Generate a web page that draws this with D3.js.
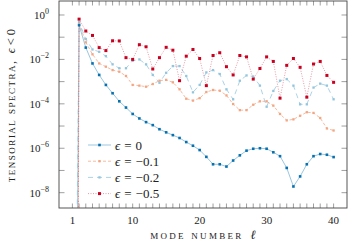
<!DOCTYPE html>
<html>
<head>
<meta charset="utf-8">
<script src="https://cdn.jsdelivr.net/npm/d3@7"></script>
<style>
  html, body { margin: 0; padding: 0; background: #fff; }
  svg { display: block; }
  text { font-family: "Liberation Serif", "DejaVu Serif", serif; fill: #222; }
</style>
</head>
<body>
<div id="chart"></div>
<script>
// mode numbers l = 1..40
const modes = d3.range(1, 41);

// tensorial spectra, one array per epsilon
const spec_eps0 = [1e-40, 3.5e-1, 3.4e-2, 6.6e-3, 2.0e-3, 7.1e-4, 3.0e-4, 1.3e-4, 6.8e-5, 3.5e-5,
  2.2e-5, 1.5e-5, 1.1e-5, 7.2e-6, 5.2e-6, 3.9e-6, 2.9e-6, 1.9e-6, 1.3e-6, 8.3e-7,
  4.1e-7, 1.9e-7, 1.9e-7, 1.5e-7, 2.8e-7, 4.8e-7, 7.8e-7, 9.5e-7, 1.0e-6, 9.5e-7,
  6.6e-7, 4.4e-7, 1.3e-7, 1.9e-8, 5.4e-8, 1.9e-7, 4.4e-7, 5.5e-7, 5.1e-7, 4.0e-7];
const spec_eps01 = [1e-60, 4.4e-1, 5.9e-2, 1.7e-2, 6.6e-3, 4.7e-3, 3.3e-3, 2.8e-3, 1.8e-3, 7.1e-4,
  6.6e-4, 5.9e-4, 7.8e-4, 1.1e-3, 1.2e-3, 9.3e-4, 4.5e-4, 1.7e-4, 1.4e-4, 1.8e-4,
  3.4e-4, 4.2e-4, 3.9e-4, 2.4e-4, 9.8e-5, 5.2e-5, 5.2e-5, 9.1e-5, 1.3e-4, 1.3e-4,
  8.3e-5, 3.5e-5, 1.8e-5, 2.0e-5, 2.9e-5, 4.2e-5, 3.9e-5, 2.3e-5, 7.8e-6, 6.3e-6];
const spec_eps02 = [1e-30, 4.8e-1, 8.3e-2, 2.8e-2, 2.2e-2, 1.4e-2, 6.0e-3, 4.0e-3, 4.0e-3, 8.7e-3,
  1.0e-2, 6.0e-3, 2.0e-3, 8.9e-4, 2.5e-3, 5.0e-3, 5.0e-3, 1.8e-3, 3.3e-4, 7.1e-4,
  2.6e-3, 3.3e-3, 2.2e-3, 4.5e-4, 1.6e-4, 1.1e-3, 1.9e-3, 1.7e-3, 6.6e-4, 7.4e-5,
  3.8e-4, 1.1e-3, 1.3e-3, 6.6e-4, 9.5e-5, 9.5e-5, 5.4e-4, 8.1e-4, 6.6e-4, 1.6e-4];
const spec_eps05 = [1e-80, 6.5e-1, 1.9e-1, 1.2e-1, 3.4e-2, 2.5e-2, 6.9e-2, 6.8e-2, 1.2e-2, 1.0e-2,
  4.6e-2, 3.7e-2, 3.7e-3, 1.2e-2, 3.5e-2, 2.6e-2, 1.1e-3, 1.4e-2, 2.8e-2, 1.1e-2,
  6.6e-4, 1.5e-2, 2.0e-2, 4.7e-3, 2.0e-3, 1.5e-2, 1.3e-2, 1.3e-3, 3.9e-3, 1.3e-2,
  8.1e-3, 1.8e-4, 5.4e-3, 1.1e-2, 4.4e-3, 2.0e-4, 6.2e-3, 8.1e-3, 1.9e-3, 9.3e-4];

const legendValues = ["0", "\u22120.1", "\u22120.2", "\u22120.5"];
const xTickLabels = [1, 10, 20, 30, 40];
const yTickExps = [0, -1, -2, -3, -4, -5, -6, -7, -8];

const series = [
  {values: spec_eps0,  color: "#0571b0", dash: null,    lineOpacity: 0.45, size: 2.6},
  {values: spec_eps01, color: "#f4a582", dash: "3,2",   lineOpacity: 0.85, size: 2.3},
  {values: spec_eps02, color: "#92c5de", dash: "5,4",   lineOpacity: 0.85, size: 2.3},
  {values: spec_eps05, color: "#ca0020", dash: "1,1.5", lineOpacity: 0.45, size: 3.0}
];

const W = 348, H = 246;
const margin = {top: 1, right: 1, bottom: 38, left: 59};
const width = W - margin.left - margin.right;
const height = H - margin.top - margin.bottom;

const x = d3.scaleLinear().domain([-1, 42]).range([0, width]);
const y = d3.scaleLog().domain([Math.pow(10, -8.69), Math.pow(10, 0.63)]).range([height, 0]);

const svg = d3.select("#chart").append("svg")
  .attr("width", W).attr("height", H);

const g = svg.append("g").attr("transform", `translate(${margin.left},${margin.top})`);

g.append("clipPath").attr("id", "clip")
  .append("rect").attr("width", width).attr("height", height);

// inward ticks, all four sides
const tickColor = "#777";
const ticks = g.append("g");
modes.forEach(function(l) {
  ticks.append("line").attr("x1", x(l)).attr("x2", x(l)).attr("y1", height).attr("y2", height - 4.5)
    .attr("stroke", tickColor).attr("stroke-width", 0.7);
  ticks.append("line").attr("x1", x(l)).attr("x2", x(l)).attr("y1", 0).attr("y2", 4.5)
    .attr("stroke", tickColor).attr("stroke-width", 0.7);
});
yTickExps.forEach(function(e) {
  const yy = y(Math.pow(10, e));
  ticks.append("line").attr("x1", 0).attr("x2", 5.5).attr("y1", yy).attr("y2", yy)
    .attr("stroke", tickColor).attr("stroke-width", 0.7);
  ticks.append("line").attr("x1", width).attr("x2", width - 5.5).attr("y1", yy).attr("y2", yy)
    .attr("stroke", tickColor).attr("stroke-width", 0.7);
});

// x tick labels
g.selectAll(".xlab").data(xTickLabels).join("text")
  .attr("class", "xlab")
  .attr("x", d => x(d)).attr("y", height + 15.5)
  .attr("text-anchor", "middle").style("font-size", "11px")
  .text(d => d);

// y tick labels 10^e
yTickExps.filter(e => e % 2 === 0).forEach(function(e) {
  const t = g.append("text")
    .attr("x", -10).attr("y", y(Math.pow(10, e)) + 4)
    .attr("text-anchor", "end").style("font-size", "11px");
  t.append("tspan").text("10");
  t.append("tspan").attr("dy", -5).style("font-size", "8px")
    .text(e === 0 ? "0" : "\u2212" + Math.abs(e));
});

// series
const plot = g.append("g").attr("clip-path", "url(#clip)");
const line = d3.line().x((d, i) => x(modes[i])).y(d => y(d));

series.forEach(function(s) {
  plot.append("path").datum(s.values)
    .attr("fill", "none")
    .attr("stroke", s.color)
    .attr("stroke-opacity", s.lineOpacity)
    .attr("stroke-width", 0.9)
    .attr("stroke-dasharray", s.dash)
    .attr("d", line);
});
series.forEach(function(s) {
  plot.selectAll(null).data(s.values.slice(1)).join("rect")
    .attr("x", (d, i) => x(modes[i + 1]) - s.size / 2)
    .attr("y", d => y(d) - s.size / 2)
    .attr("width", s.size).attr("height", s.size)
    .attr("fill", s.color);
});

// frame
g.append("rect").attr("width", width).attr("height", height)
  .attr("fill", "none").attr("stroke", "#444").attr("stroke-width", 0.9);

// legend
const legend = g.append("g").attr("transform", "translate(29,144)");
series.forEach(function(s, i) {
  const row = legend.append("g").attr("transform", `translate(0,${i * 16.2})`);
  row.append("line").attr("x1", 0).attr("x2", 23).attr("y1", 0).attr("y2", 0)
    .attr("stroke", s.color).attr("stroke-opacity", s.lineOpacity)
    .attr("stroke-width", 0.9).attr("stroke-dasharray", s.dash);
  row.append("rect").attr("x", 11.5 - s.size / 2).attr("y", -s.size / 2)
    .attr("width", s.size).attr("height", s.size).attr("fill", s.color);
  const t = row.append("text").attr("x", 27).attr("y", 4.5).style("font-size", "13px");
  t.append("tspan").style("font-style", "italic").text("\u03F5");
  t.append("tspan").attr("dx", 4).text("=");
  t.append("tspan").attr("dx", 4).text(legendValues[i]);
});

// axis labels
const xl = svg.append("text")
  .attr("x", margin.left + width / 2).attr("y", 239)
  .attr("text-anchor", "middle")
  .style("font-size", "12.5px");
xl.append("tspan").style("font-variant", "small-caps").style("letter-spacing", "2.3px").text("mode number");
xl.append("tspan").attr("dx", 7).style("font-style", "italic").text("\u2113");

const yl = svg.append("text")
  .attr("transform", `translate(15,${margin.top + height / 2 + 1}) rotate(-90)`)
  .attr("text-anchor", "middle")
  .style("font-size", "12.5px");
yl.append("tspan").style("font-variant", "small-caps").style("letter-spacing", "1.5px").text("tensorial spectra,");
yl.append("tspan").attr("dx", 6).style("font-style", "italic").text("\u03F5");
yl.append("tspan").attr("dx", 3).text("< 0");
</script>
</body>
</html>
